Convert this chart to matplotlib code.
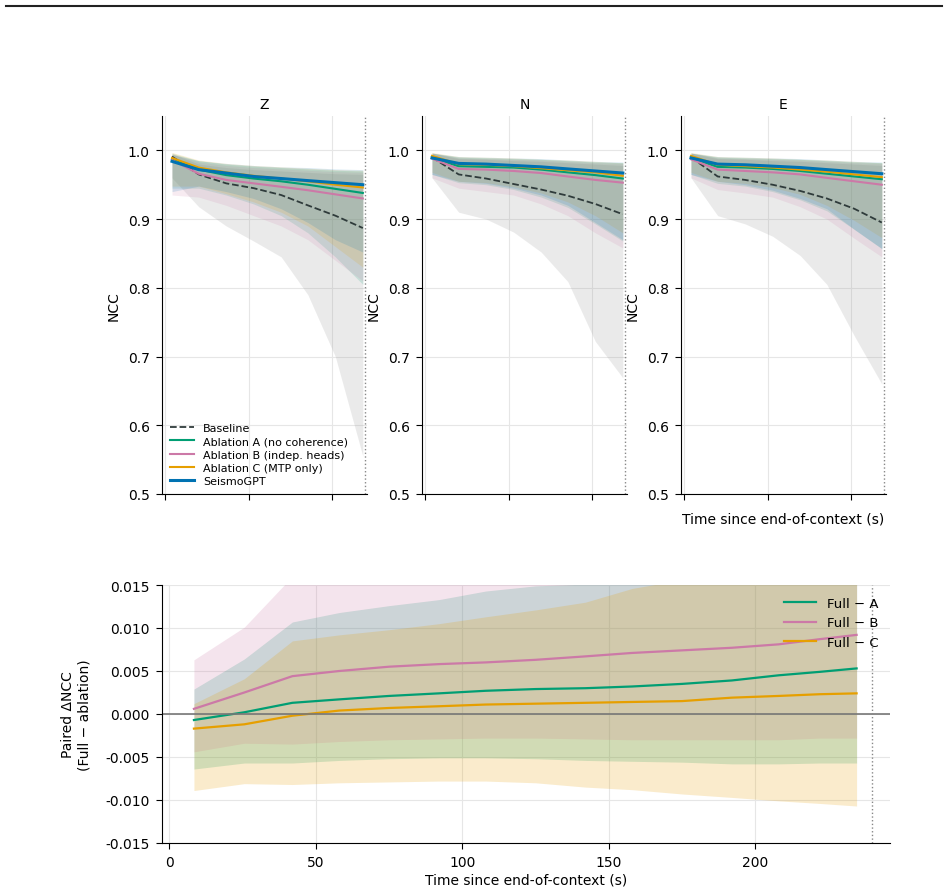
import numpy as np
import matplotlib
matplotlib.use("Agg")
import matplotlib.pyplot as plt
from matplotlib.lines import Line2D

plt.rcParams["xtick.major.size"] = 4.5
plt.rcParams["ytick.major.size"] = 4.5
plt.rcParams["xtick.major.pad"] = 4.0
plt.rcParams["ytick.major.pad"] = 4.4

# colours
C_BASE = "#2f3b3b"
C_A = "#009E73"
C_B = "#CC79A7"
C_C = "#E69F00"
C_S = "#0072B2"

# ---------------- top panels: NCC vs time ----------------
t_top = np.array([8, 40, 73, 106, 139, 171, 204, 237])
components = ["Z", "N", "E"]

ncc = {
    "Z": {
        "base": [0.991, 0.965, 0.952, 0.945, 0.935, 0.920, 0.905, 0.887],
        "A":    [0.987, 0.972, 0.964, 0.959, 0.955, 0.950, 0.944, 0.938],
        "B":    [0.986, 0.966, 0.957, 0.952, 0.947, 0.942, 0.936, 0.930],
        "C":    [0.989, 0.975, 0.968, 0.963, 0.959, 0.955, 0.950, 0.946],
        "S":    [0.984, 0.972, 0.967, 0.962, 0.959, 0.956, 0.953, 0.950],
    },
    "N": {
        "base": [0.990, 0.965, 0.959, 0.951, 0.943, 0.934, 0.922, 0.907],
        "A":    [0.989, 0.977, 0.976, 0.975, 0.972, 0.968, 0.964, 0.959],
        "B":    [0.988, 0.973, 0.972, 0.970, 0.967, 0.962, 0.957, 0.953],
        "C":    [0.992, 0.980, 0.979, 0.977, 0.974, 0.971, 0.968, 0.963],
        "S":    [0.989, 0.981, 0.980, 0.978, 0.976, 0.973, 0.970, 0.967],
    },
    "E": {
        "base": [0.990, 0.962, 0.957, 0.950, 0.941, 0.930, 0.915, 0.895],
        "A":    [0.989, 0.976, 0.975, 0.973, 0.970, 0.966, 0.962, 0.958],
        "B":    [0.987, 0.972, 0.970, 0.968, 0.965, 0.960, 0.955, 0.950],
        "C":    [0.992, 0.979, 0.977, 0.975, 0.972, 0.969, 0.965, 0.961],
        "S":    [0.989, 0.980, 0.979, 0.977, 0.975, 0.972, 0.969, 0.966],
    },
}

ncc_lo = {
    "Z": {
        "base": [0.960, 0.918, 0.890, 0.868, 0.845, 0.790, 0.700, 0.555],
        "A":    [0.945, 0.945, 0.935, 0.922, 0.905, 0.880, 0.845, 0.805],
        "B":    [0.935, 0.932, 0.920, 0.905, 0.890, 0.870, 0.840, 0.810],
        "C":    [0.948, 0.948, 0.937, 0.925, 0.910, 0.890, 0.860, 0.830],
        "S":    [0.940, 0.948, 0.940, 0.930, 0.915, 0.895, 0.870, 0.852],
    },
    "N": {
        "base": [0.960, 0.910, 0.900, 0.881, 0.852, 0.809, 0.722, 0.669],
        "A":    [0.965, 0.953, 0.950, 0.943, 0.932, 0.917, 0.893, 0.868],
        "B":    [0.960, 0.945, 0.940, 0.935, 0.922, 0.905, 0.880, 0.858],
        "C":    [0.968, 0.955, 0.953, 0.947, 0.938, 0.925, 0.905, 0.880],
        "S":    [0.965, 0.955, 0.952, 0.945, 0.935, 0.920, 0.895, 0.870],
    },
    "E": {
        "base": [0.960, 0.905, 0.893, 0.875, 0.847, 0.805, 0.730, 0.660],
        "A":    [0.965, 0.952, 0.948, 0.940, 0.928, 0.912, 0.885, 0.857],
        "B":    [0.960, 0.943, 0.938, 0.932, 0.918, 0.900, 0.872, 0.845],
        "C":    [0.968, 0.955, 0.952, 0.946, 0.936, 0.920, 0.898, 0.873],
        "S":    [0.965, 0.955, 0.950, 0.942, 0.930, 0.915, 0.885, 0.857],
    },
}

ncc_hi = {
    "Z": {
        "base": [0.995, 0.980, 0.975, 0.972, 0.970, 0.968, 0.966, 0.965],
        "A":    [0.996, 0.985, 0.980, 0.977, 0.975, 0.973, 0.971, 0.970],
        "B":    [0.995, 0.983, 0.978, 0.975, 0.973, 0.971, 0.969, 0.968],
        "C":    [0.997, 0.986, 0.981, 0.978, 0.976, 0.974, 0.972, 0.971],
        "S":    [0.994, 0.985, 0.981, 0.978, 0.976, 0.975, 0.973, 0.972],
    },
    "N": {
        "base": [0.996, 0.988, 0.987, 0.985, 0.984, 0.982, 0.980, 0.978],
        "A":    [0.996, 0.990, 0.989, 0.988, 0.987, 0.985, 0.983, 0.982],
        "B":    [0.996, 0.989, 0.988, 0.987, 0.986, 0.984, 0.982, 0.981],
        "C":    [0.997, 0.991, 0.990, 0.989, 0.987, 0.986, 0.984, 0.982],
        "S":    [0.996, 0.991, 0.990, 0.989, 0.988, 0.986, 0.984, 0.983],
    },
    "E": {
        "base": [0.996, 0.988, 0.987, 0.985, 0.984, 0.982, 0.980, 0.978],
        "A":    [0.996, 0.990, 0.989, 0.988, 0.987, 0.985, 0.983, 0.982],
        "B":    [0.996, 0.989, 0.988, 0.987, 0.986, 0.984, 0.982, 0.981],
        "C":    [0.997, 0.991, 0.990, 0.989, 0.987, 0.986, 0.984, 0.982],
        "S":    [0.996, 0.991, 0.990, 0.989, 0.988, 0.986, 0.984, 0.983],
    },
}

series = ["base", "A", "B", "C", "S"]
labels = {
    "base": "Baseline",
    "A": "Ablation A (no coherence)",
    "B": "Ablation B (indep. heads)",
    "C": "Ablation C (MTP only)",
    "S": "SeismoGPT",
}
colors = {"base": C_BASE, "A": C_A, "B": C_B, "C": C_C, "S": C_S}
band_colors = {"base": "#9a9a9a", "A": C_A, "B": C_B, "C": C_C, "S": C_S}

# ---------------- bottom panel: paired delta NCC ----------------
t_bot = np.array([8.4, 25.6, 42, 58, 75, 92, 108, 125, 142, 158, 175, 192, 208, 222, 234.6])
d_A = [-0.0007, 0.0002, 0.0013, 0.0017, 0.0021, 0.0024, 0.0027, 0.0029, 0.0030, 0.0032, 0.0035, 0.0039, 0.0045, 0.0049, 0.0053]
d_B = [0.0006, 0.0025, 0.0044, 0.0050, 0.0055, 0.0058, 0.0060, 0.0063, 0.0067, 0.0071, 0.0074, 0.0077, 0.0081, 0.0087, 0.0092]
d_C = [-0.0017, -0.0012, -0.0002, 0.0004, 0.0007, 0.0009, 0.0011, 0.0012, 0.0013, 0.0014, 0.0015, 0.0019, 0.0021, 0.0023, 0.0024]
d_A_hi = [0.0029, 0.0064, 0.0107, 0.0118, 0.0126, 0.0133, 0.0143, 0.0149, 0.0151, 0.0153, 0.0158, 0.0165, 0.0172, 0.0178, 0.0183]
d_A_lo = [-0.0064, -0.0057, -0.0057, -0.0054, -0.0052, -0.0051, -0.0051, -0.0052, -0.0054, -0.0055, -0.0056, -0.0058, -0.0058, -0.0057, -0.0057]
d_B_hi = [0.0063, 0.0101, 0.0160, 0.0175, 0.0185, 0.0192, 0.0198, 0.0205, 0.0210, 0.0216, 0.0222, 0.0228, 0.0234, 0.0240, 0.0245]
d_B_lo = [-0.0044, -0.0034, -0.0035, -0.0032, -0.0030, -0.0029, -0.0028, -0.0028, -0.0029, -0.0030, -0.0030, -0.0030, -0.0030, -0.0028, -0.0028]
d_C_hi = [0.0012, 0.0041, 0.0085, 0.0092, 0.0098, 0.0105, 0.0113, 0.0121, 0.0130, 0.0146, 0.0156, 0.0165, 0.0172, 0.0178, 0.0182]
d_C_lo = [-0.0089, -0.0081, -0.0082, -0.0080, -0.0079, -0.0078, -0.0078, -0.0080, -0.0085, -0.0088, -0.0093, -0.0097, -0.0101, -0.0104, -0.0107]

T_END = 240

fig = plt.figure(figsize=(9.48, 8.95), dpi=100)

# thin rule across the top
fig.add_artist(Line2D([6 / 948, 942 / 948], [1 - 7 / 895, 1 - 7 / 895],
                      transform=fig.transFigure, color="#222222", lw=1.5))

lefts = [162, 422, 681]
for comp, lx in zip(components, lefts):
    ax = fig.add_axes([lx / 948, (895 - 495) / 895, 205 / 948, (495 - 117) / 895])
    for s in series:
        ax.fill_between(t_top, ncc_lo[comp][s], ncc_hi[comp][s],
                        color=band_colors[s], alpha=0.2 if s == "base" else 0.15, lw=0)
    for s in series:
        if s == "base":
            ax.plot(t_top, ncc[comp][s], color=colors[s], ls="--", lw=1.3, label=labels[s])
        elif s == "S":
            ax.plot(t_top, ncc[comp][s], color=colors[s], lw=2.2, label=labels[s])
        else:
            ax.plot(t_top, ncc[comp][s], color=colors[s], lw=1.5, label=labels[s])
    ax.axvline(T_END, color="#888888", ls=":", lw=1)
    ax.set_xlim(-4, 242)
    ax.set_ylim(0.5, 1.05)
    ax.set_xticks([0, 100, 200])
    ax.set_xticklabels([])
    ax.set_yticks([0.5, 0.6, 0.7, 0.8, 0.9, 1.0])
    ax.grid(True, color="#e6e6e6", lw=0.8)
    ax.set_axisbelow(True)
    ax.spines["top"].set_visible(False)
    ax.spines["right"].set_visible(False)
    ax.set_title(comp, fontsize=10)
    ax.set_ylabel("NCC", fontsize=10, labelpad=5)
    if comp == "Z":
        ax.legend(loc="lower left", frameon=False, fontsize=8,
                  handlelength=2.2, labelspacing=0.3, borderaxespad=0.3)
    if comp == "E":
        ax.set_xlabel("Time since end-of-context (s)", fontsize=10)

# bottom panel
ax = fig.add_axes([162 / 948, (895 - 844) / 895, 728 / 948, 258 / 895])
ax.fill_between(t_bot, d_A_lo, d_A_hi, color=C_A, alpha=0.2, lw=0)
ax.fill_between(t_bot, d_B_lo, d_B_hi, color=C_B, alpha=0.2, lw=0)
ax.fill_between(t_bot, d_C_lo, d_C_hi, color=C_C, alpha=0.2, lw=0)
ax.plot(t_bot, d_A, color=C_A, lw=1.6, label="Full \u2212 A")
ax.plot(t_bot, d_B, color=C_B, lw=1.6, label="Full \u2212 B")
ax.plot(t_bot, d_C, color=C_C, lw=1.6, label="Full \u2212 C")
ax.axhline(0, color="#777777", lw=1.2)
ax.axvline(T_END, color="#888888", ls=":", lw=1)
ax.set_xlim(-2.5, 246)
ax.set_ylim(-0.015, 0.015)
ax.set_xticks([0, 50, 100, 150, 200])
ax.set_yticks(np.arange(-0.015, 0.0151, 0.005))
ax.yaxis.set_major_formatter(matplotlib.ticker.FormatStrFormatter("%.3f"))
ax.grid(True, color="#e6e6e6", lw=0.8)
ax.set_axisbelow(True)
ax.spines["top"].set_visible(False)
ax.spines["right"].set_visible(False)
ax.set_xlabel("Time since end-of-context (s)", fontsize=10, labelpad=3)
ax.set_ylabel("Paired \u0394NCC\n(Full \u2212 ablation)", fontsize=10, labelpad=10)
ax.legend(loc="upper right", frameon=False, fontsize=9.5, handlelength=2.4)

fig.savefig("out.png", dpi=100)
